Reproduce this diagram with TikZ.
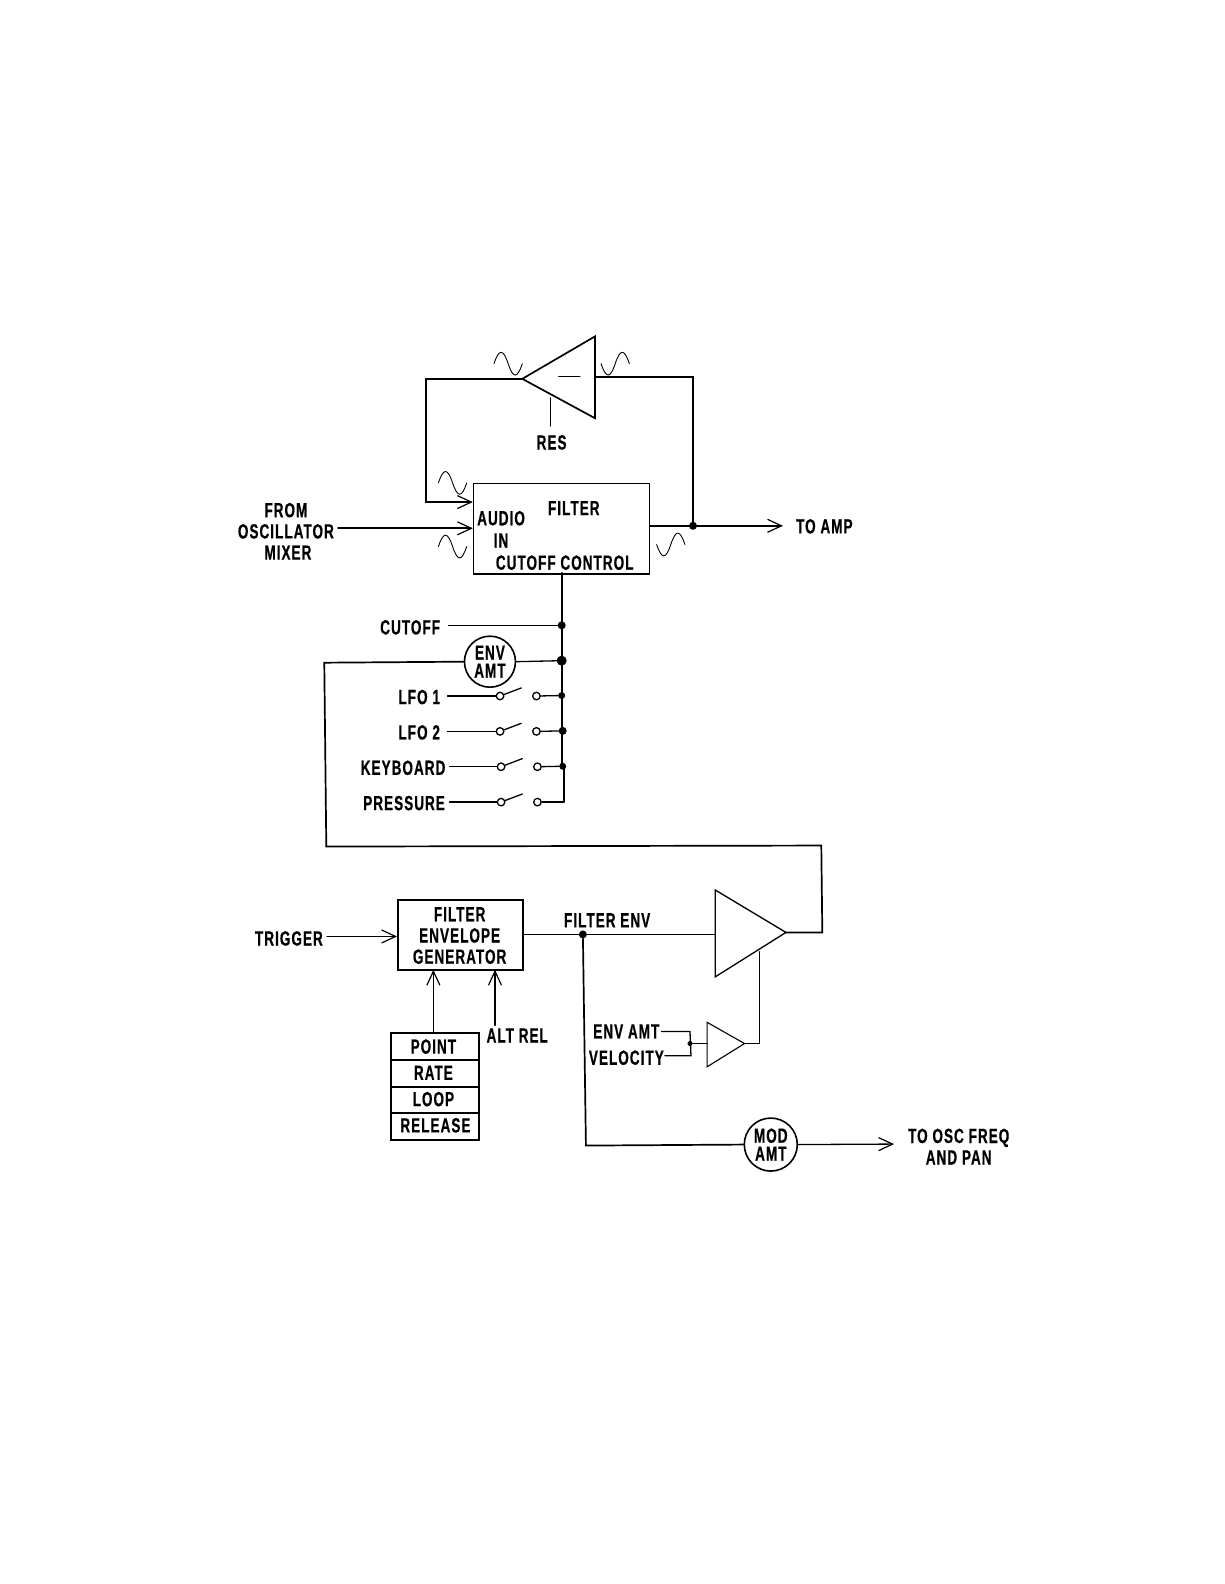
\documentclass[tikz,border=0pt]{standalone}
\usepackage{fontspec}
\setmainfont[FakeStretch=0.66,LetterSpace=5,FakeBold=0.5]{Liberation Sans}
\usetikzlibrary{arrows.meta}
\tikzset{
  wire/.style={line width=1.7pt,line cap=round,line join=miter},
  thinw/.style={line width=1.3pt,line cap=round},
  arr/.style={-{Straight Barb[length=14pt,width=13pt,line width=1.2pt]}},
  lbl/.style={inner sep=0pt,font=\bfseries\fontsize{20.5}{20.5}\selectfont},
  bx/.style={draw,line width=1.6pt,inner sep=0pt,anchor=north west},
  circ/.style={draw,circle,line width=1.6pt,inner sep=0pt,minimum size=51pt},
  dot/.style={circle,fill=black,inner sep=0pt,minimum size=8pt},
  dotb/.style={circle,fill=black,inner sep=0pt,minimum size=10pt},
  dots/.style={circle,fill=black,inner sep=0pt,minimum size=5pt},
  sw/.style={circle,draw,fill=white,line width=1.3pt,inner sep=0pt,minimum size=7.5pt},
  sinewave/.pic={\draw[line width=0.9pt,line cap=round] (0,0) .. controls (5,-15) and (9,-15) .. (14,0) .. controls (19,15) and (23,15) .. (28,0);}
}
\begin{document}
\begin{tikzpicture}[x=1.01pt,y=-1.01pt]
\useasboundingbox (0,0) rectangle (1212,1568);
\fill[white] (0,0) rectangle (1212,1568);
% top amplifier
\coordinate (ampA) at (517,375); \coordinate (ampT) at (589,333); \coordinate (ampB) at (589,414);
\draw[wire] (ampA) -- (ampT) -- (ampB) -- cycle;
\coordinate (minusL) at (553,373); \coordinate (minusR) at (574,373);
\draw[thinw] (minusL) -- (minusR);
\coordinate (ampOut) at (589,373);
\coordinate (resTop) at (545,394);
\node[lbl] (res) at (546,438) {RES};
\draw[thinw] (resTop) -- ([yshift=9pt]res.north -| resTop);
% filter
\node[bx,minimum width=176pt,minimum height=90pt] (filter) at (468,478) {};
\node[lbl] (filtertxt) at (568,503) {FILTER};
\node[lbl] (audio) at (496,513) {AUDIO};
\node[lbl] (in) at (496,535) {IN};
\node[lbl] (cc) at (559,557) {CUTOFF CONTROL};
\node[lbl] (from) at (283,505) {FROM};
\node[lbl] (osc) at (283,526) {OSCILLATOR};
\node[lbl] (mixer) at (285,547) {MIXER};
\node[lbl] (toamp) at (816,521) {TO AMP};
\node[dot] (outdot) at (686,520.5) {};
\coordinate (fbL) at (422,375);
\coordinate (fbLb) at (422,497);
\coordinate (fbR) at (686,373);
\draw[wire] (ampOut) -- (fbR) -- (outdot);
\draw[wire,arr] (ampA) -- (fbL) -- (fbLb) -- (filter.west |- fbLb);
\draw[wire,arr] ([xshift=4pt]osc.east |- 0,523) -- (filter.west |- 0,523);
\draw[wire,arr] (filter.east |- outdot) -- (775,520.5);
\pic at (489,360) {sinewave};
\pic[yscale=-1] at (595,360) {sinewave};
\pic at (434,478) {sinewave};
\pic at (434,541) {sinewave};
\pic[yscale=-1] at (650,539) {sinewave};
% control bus
\coordinate (busEnd) at (558,794);
\draw[wire] (556,567) -- (556,760) -- (558,760) -- (busEnd);
\node[lbl] (cutoff) at (406,621) {CUTOFF};
\node[dot] (dcut) at (556,619) {};
\draw[thinw] (444,619) -- (dcut);
\node[circ,font=\bfseries\fontsize{20.5}{19}\selectfont,align=center] (envamt) at (485,655) {ENV\\[-1pt]AMT};
\node[dotb] (denv) at (556,654) {};
\draw[thinw] (envamt.east) -- (denv);
% switches
\newcommand{\swrow}[6]{%
  \node[lbl] (#1lbl) at (#2,#3) {#4};
  \node[sw] (#1a) at (#5,#3-1) {};
  \node[sw] (#1b) at (#5+36,#3-1) {};
  \coordinate (#1m) at (#5+21,#3-9);
  \draw[thinw] (#6,#3-1) -- (#1a);
  \draw[thinw] (#1a) -- (#1m);
}
\swrow{lfoa}{415}{690}{LFO 1}{495}{443}
\node[dots,minimum size=7pt] (d1) at (556,688.5) {};
\draw[thinw] (lfoab) -- (d1);
\swrow{lfob}{415}{725}{LFO 2}{495}{443}
\node[dot] (d2) at (557,723.5) {};
\draw[thinw] (lfobb) -- (d2);
\swrow{key}{399}{760}{KEYBOARD}{496}{445}
\node[dots,minimum size=7pt] (d3) at (557,758.5) {};
\draw[thinw] (keyb) -- (d3);
\swrow{pres}{400}{795}{PRESSURE}{496}{445}
\draw[thinw] (presb) -- (busEnd |- presb) -- (busEnd);
% long feedback
\coordinate (c1) at (321,656); \coordinate (c2) at (323,838); \coordinate (c3) at (813,837); \coordinate (c4) at (814,923);
% envelope generator
\node[bx,minimum width=125pt,minimum height=70pt] (gen) at (393,890) {};
\node[lbl] (g1) at (455,905) {FILTER};
\node[lbl] (g2) at (455,926) {ENVELOPE};
\node[lbl] (g3) at (455,947) {GENERATOR};
\node[lbl] (trig) at (286,929) {TRIGGER};
\draw[thinw,arr] ([xshift=4pt]trig.east |- 0,927) -- (gen.west |- 0,927);
% stack
\node[bx,minimum width=88pt,minimum height=27pt] (s1) at (386,1022) {};
\node[bx,minimum width=88pt,minimum height=26pt] (s2) at (386,1049) {};
\node[bx,minimum width=88pt,minimum height=26pt] (s3) at (386,1075) {};
\node[bx,minimum width=88pt,minimum height=27pt] (s4) at (386,1101) {};
\node[lbl] (t1) at (429,1036) {POINT};
\node[lbl] (t2) at (429,1062) {RATE};
\node[lbl] (t3) at (429,1088) {LOOP};
\node[lbl] (t4) at (431,1114) {RELEASE};
\draw[wire,arr] (429,1022) -- (429,960);
\node[lbl] (altrel) at (512,1025) {ALT REL};
\draw[thinw,arr] (490,1015) -- (490,960);
% main amp
\coordinate (vA) at (708,881); \coordinate (vB) at (708,967); \coordinate (vO) at (778,923);
\draw[line width=1.3pt] (vA) -- (vO) -- (vB) -- cycle;
\node[lbl] (fenv) at (601,911) {FILTER ENV};
\node[dot] (dfe) at (577,925) {};
\draw[wire] (gen.east |- dfe) -- (dfe) -- (vA |- dfe);
\draw[wire] (envamt.west) -- (c1) -- (c2) -- (c3) -- (c4) -- (vO);
% small amp
\coordinate (uA) at (700,1012); \coordinate (uB) at (700,1056); \coordinate (uO) at (737,1033);
\draw[line width=1.1pt] (uA) -- (uO) -- (uB) -- cycle;
\coordinate (uTop) at (752,942);
\draw[thinw] (uO) -- (752,1033) -- (uTop);
\node[lbl] (lenv) at (620,1021) {ENV AMT};
\node[lbl] (lvel) at (620,1047) {VELOCITY};
\node[dots] (dsum) at (683,1033) {};
\draw[thinw] ([xshift=2pt]lenv.east |- 0,1021) -- (683,1021) -- (684,1045) -- ([xshift=1pt]lvel.east |- 0,1045);
\draw[thinw] (dsum) -- (uA |- dsum);
% mod amt
\node[circ,minimum size=53pt,font=\bfseries\fontsize{20.5}{19}\selectfont,align=center] (modamt) at (763,1133) {MOD\\[-1pt]AMT};
\node[lbl,align=center] (toosc) at (949,1135) {TO OSC FREQ\\[1pt]AND PAN};
\draw[wire] (dfe) -- (580,1134) -- (modamt.west);
\draw[thinw,arr] (modamt.east) -- (885,1132.5);
\end{tikzpicture}
\end{document}
